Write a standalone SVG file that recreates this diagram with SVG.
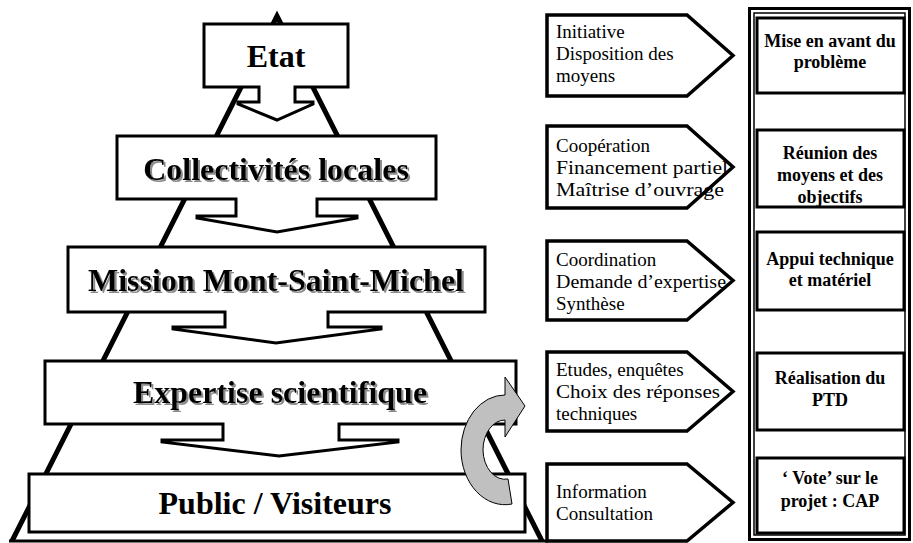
<svg xmlns="http://www.w3.org/2000/svg" width="913" height="543" viewBox="0 0 913 543">
<defs>
<filter id="sh" x="-5%" y="-20%" width="110%" height="140%">
<feDropShadow dx="2" dy="2" stdDeviation="0.4" flood-color="#8c8c8c" flood-opacity="1"/>
</filter>
</defs>
<style>
.box{fill:#fff;stroke:#000;stroke-width:3;stroke-linejoin:miter}
.big{font-family:"Liberation Serif",serif;font-weight:bold;font-size:32px;text-anchor:middle;fill:#000}
.pent{fill:#fff;stroke:#000;stroke-width:3.5;stroke-linejoin:miter}
.small{font-family:"Liberation Serif",serif;font-size:19px;fill:#000}
.rbox{fill:#fff;stroke:#000;stroke-width:3}
.rt{font-family:"Liberation Serif",serif;font-weight:bold;font-size:18px;text-anchor:middle;fill:#000}
</style>
<rect width="913" height="543" fill="#fff"/>
<g id="connectors">
<polyline points="12,541 277,16 542,541" fill="none" stroke="#000" stroke-width="5" stroke-linejoin="miter" stroke-miterlimit="10"/>
<line x1="9" y1="541" x2="548" y2="541" stroke="#000" stroke-width="3"/>
</g>
<g id="etat">
<path class="box" d="M204,24 H348 V87 H295 V102 H313 V104 L277,120 L238,104 V102 H259 V87 H204 Z"/>
<text class="big" x="276" y="67">Etat</text>
</g>
<g id="collectivites">
<path class="box" d="M117,136 H436 V199 H317 V216 H357 V218 L277,232 L197,218 V216 H236 V199 H117 Z"/>
<text class="big" x="276" y="180" filter="url(#sh)">Collectivités locales</text>
</g>
<g id="mission">
<path class="box" d="M68,247 H485 V312 H328 V327 H381 V329 L276,343 L173,329 V327 H225 V312 H68 Z"/>
<text class="big" x="276" y="291" filter="url(#sh)">Mission Mont-Saint-Michel</text>
</g>
<g id="expertise">
<path class="box" d="M45,361 H516 V424 H339 V440 H398 V442 L279,456 L162,442 V440 H223 V424 H45 Z"/>
<text class="big" x="280" y="403" filter="url(#sh)">Expertise scientifique</text>
</g>
<g id="public">
<rect class="box" x="29" y="474" width="496" height="58"/>
<text class="big" x="275" y="514">Public / Visiteurs</text>
</g>
<g id="cycle-arrow">
<path d="M505,395 A44,55 0 0 0 461,450 A44,55 0 0 0 512,504 L508,479 A22,30 0 0 1 483,450 A22,30 0 0 1 505,420 V437 L525,406 L505,377 Z" fill="#c0c0c0" stroke="#000" stroke-width="1"/>
</g>
<g id="p1">
<polygon class="pent" points="547,15 687,15 733,55.5 687,96 547,96"/>
<text class="small" x="556" y="38">Initiative</text>
<text class="small" x="556" y="60">Disposition des</text>
<text class="small" x="556" y="82">moyens</text>
</g>
<g id="p2">
<polygon class="pent" points="547,126 687,126 733,167 687,208 547,208"/>
<text class="small" x="556" y="152">Coopération</text>
<text class="small" x="556" y="174" textLength="172" lengthAdjust="spacingAndGlyphs">Financement partiel</text>
<text class="small" x="556" y="196" textLength="168" lengthAdjust="spacingAndGlyphs">Maîtrise d’ouvrage</text>
</g>
<g id="p3">
<polygon class="pent" points="547,241 687,241 733,280.5 687,320 547,320"/>
<text class="small" x="556" y="266">Coordination</text>
<text class="small" x="556" y="288" textLength="170" lengthAdjust="spacingAndGlyphs">Demande d’expertise</text>
<text class="small" x="556" y="310">Synthèse</text>
</g>
<g id="p4">
<polygon class="pent" points="547,352 687,352 733,391.5 687,431 547,431"/>
<text class="small" x="556" y="376">Etudes, enquêtes</text>
<text class="small" x="556" y="398" textLength="164" lengthAdjust="spacingAndGlyphs">Choix des réponses</text>
<text class="small" x="556" y="420">techniques</text>
</g>
<g id="p5">
<polygon class="pent" points="547,464 687,464 733,502.5 687,541 547,541"/>
<text class="small" x="556" y="498">Information</text>
<text class="small" x="556" y="520">Consultation</text>
</g>
<g id="frame">
<rect x="749.5" y="8.5" width="160" height="531" fill="#fff" stroke="#000" stroke-width="3"/>
<rect x="754" y="13" width="151" height="522" fill="none" stroke="#000" stroke-width="1.5"/>
</g>
<g id="r1">
<rect class="rbox" x="757" y="18" width="147" height="75"/>
<text class="rt" x="830" y="47">Mise en avant du</text>
<text class="rt" x="830" y="68">problème</text>
</g>
<g id="r2">
<rect class="rbox" x="757" y="130" width="147" height="77"/>
<text class="rt" x="830" y="159">Réunion des</text>
<text class="rt" x="830" y="181">moyens et des</text>
<text class="rt" x="830" y="203">objectifs</text>
</g>
<g id="r3">
<rect class="rbox" x="757" y="232" width="147" height="78"/>
<text class="rt" x="830" y="265">Appui technique</text>
<text class="rt" x="830" y="286">et matériel</text>
</g>
<g id="r4">
<rect class="rbox" x="757" y="353" width="147" height="77"/>
<text class="rt" x="830" y="384">Réalisation du</text>
<text class="rt" x="830" y="406">PTD</text>
</g>
<g id="r5">
<rect class="rbox" x="757" y="458" width="147" height="75"/>
<text class="rt" x="830" y="484">‘ Vote’ sur le</text>
<text class="rt" x="830" y="507">projet : CAP</text>
</g>
</svg>
